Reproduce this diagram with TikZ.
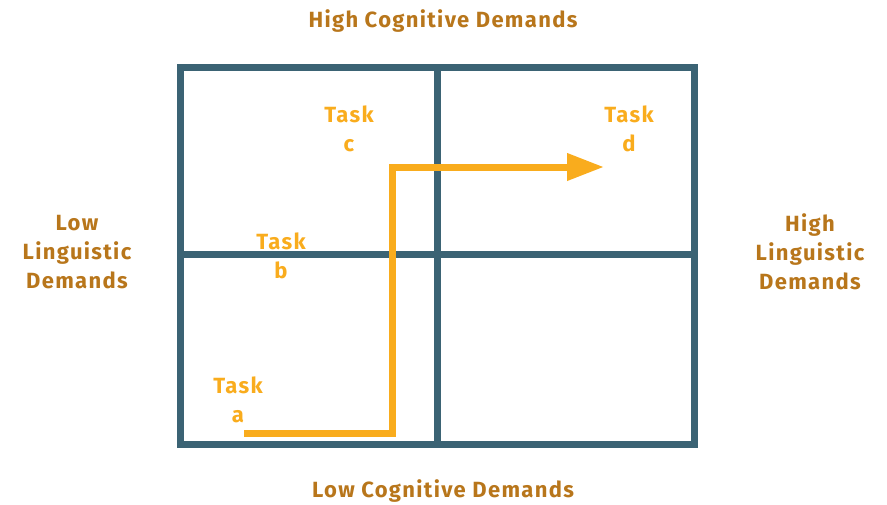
\documentclass[tikz,border=0pt]{standalone}
\usepackage{fontspec}
\setmainfont{Fira Sans}[LetterSpace=6]
\usetikzlibrary{arrows.meta}
\definecolor{gridc}{HTML}{3B6374}
\definecolor{titlec}{HTML}{B8761B}
\definecolor{taskc}{HTML}{F9AC1D}
\tikzset{
  axislabel/.style={text=titlec, font=\fontsize{22}{29}\selectfont\bfseries, align=center, inner sep=0pt},
  tasklabel/.style={text=taskc, font=\fontsize{22}{29}\selectfont\bfseries, align=center, inner sep=0pt},
  gridline/.style={draw=gridc, line width=7pt},
  patharrow/.style={draw=taskc, line width=7pt, line join=miter, -{Triangle[length=37pt,width=26pt]}}
}
\begin{document}
\begin{tikzpicture}[x=1pt,y=-1pt]
\useasboundingbox (0,0) rectangle (887,504);
% grid
\draw[gridline] (180,67) rectangle (694,444);
\draw[gridline] (437,67) -- (437,444);
\draw[gridline] (180,254) -- (694,254);
% axis labels
\node[axislabel] (top) at (443,21) {High Cognitive Demands};
\node[axislabel] (bottom) at (443,491) {Low Cognitive Demands};
\node[axislabel] (left) at (77,252) {Low\\Linguistic\\Demands};
\node[axislabel] (right) at (810,252) {High\\Linguistic\\Demands};
% tasks
\node[tasklabel] (ta) at (238,400) {Task\\a};
\node[tasklabel] (tb) at (281,256) {Task\\b};
\node[tasklabel] (tc) at (349,129) {Task\\c};
\node[tasklabel] (td) at (629,129) {Task\\d};
% arrow
\coordinate (start) at (244,433);
\coordinate (end) at (604,167);
\draw[patharrow] (start) -- (392,433) -- (392,167) -- (end);
\end{tikzpicture}
\end{document}
